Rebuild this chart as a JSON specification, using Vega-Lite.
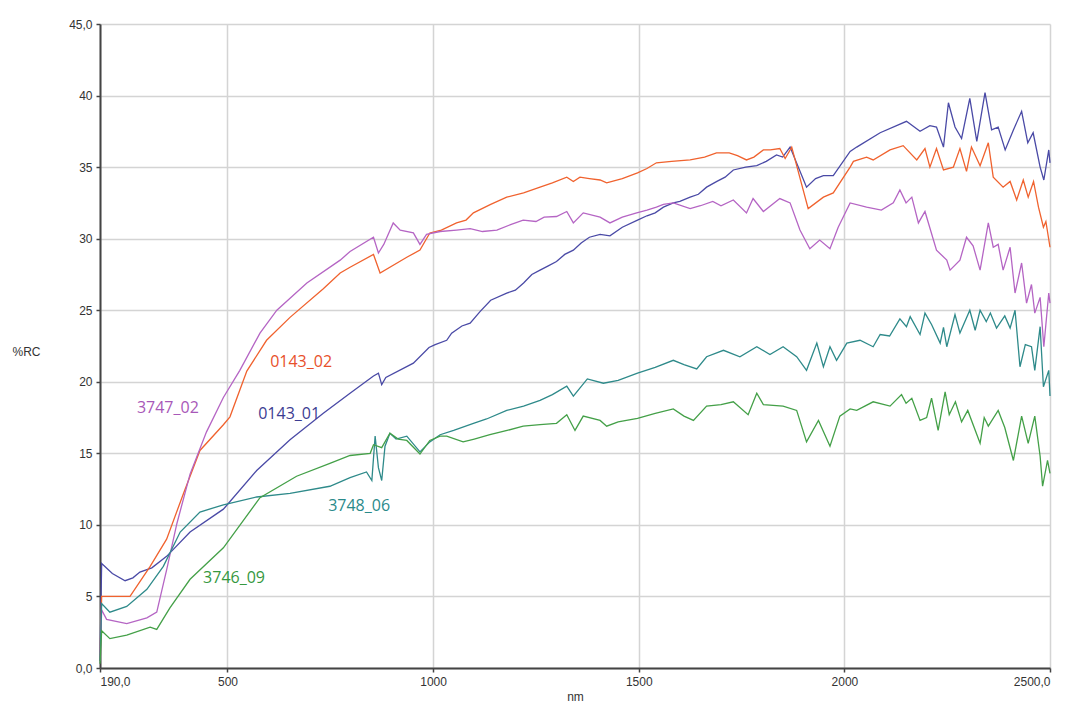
{
  "$schema": "https://vega.github.io/schema/vega-lite/v6.json",
  "width": 950,
  "height": 644,
  "autosize": {"type": "none"},
  "padding": {"left": 100, "top": 24, "right": 31, "bottom": 52},
  "background": "white",
  "config": {
    "view": {"stroke": null},
    "font": "Liberation Sans",
    "axis": {
      "labelFont": "Liberation Sans",
      "labelFontSize": 12,
      "labelColor": "#333333",
      "titleFont": "Liberation Sans",
      "titleFontSize": 12,
      "titleFontWeight": "normal",
      "titleColor": "#333333",
      "gridColor": "#d4d4d4",
      "gridWidth": 1.5,
      "domainColor": "#444444",
      "domainWidth": 2,
      "tickColor": "#444444",
      "tickSize": 4,
      "tickWidth": 1.5
    }
  },
  "datasets": {
    "spectra": [
      {"s":"0143_01","nm":190,"v":0.5},{"s":"0143_01","nm":194,"v":7.3},{"s":"0143_01","nm":198,"v":7.2},{"s":"0143_01","nm":220,"v":6.6},{"s":"0143_01","nm":251,"v":6.1},{"s":"0143_01","nm":270,"v":6.3},{"s":"0143_01","nm":287,"v":6.7},{"s":"0143_01","nm":316,"v":7.0},{"s":"0143_01","nm":352,"v":7.8},{"s":"0143_01","nm":409,"v":9.5},{"s":"0143_01","nm":490,"v":11.1},{"s":"0143_01","nm":571,"v":13.8},{"s":"0143_01","nm":652,"v":15.95},{"s":"0143_01","nm":733,"v":17.8},{"s":"0143_01","nm":798,"v":19.2},{"s":"0143_01","nm":855,"v":20.4},{"s":"0143_01","nm":867,"v":20.6},{"s":"0143_01","nm":875,"v":19.8},{"s":"0143_01","nm":885,"v":20.3},{"s":"0143_01","nm":952,"v":21.3},{"s":"0143_01","nm":990,"v":22.4},{"s":"0143_01","nm":1005,"v":22.6},{"s":"0143_01","nm":1033,"v":22.9},{"s":"0143_01","nm":1045,"v":23.4},{"s":"0143_01","nm":1070,"v":23.9},{"s":"0143_01","nm":1090,"v":24.1},{"s":"0143_01","nm":1114,"v":24.9},{"s":"0143_01","nm":1140,"v":25.7},{"s":"0143_01","nm":1179,"v":26.2},{"s":"0143_01","nm":1200,"v":26.4},{"s":"0143_01","nm":1220,"v":26.9},{"s":"0143_01","nm":1240,"v":27.5},{"s":"0143_01","nm":1260,"v":27.8},{"s":"0143_01","nm":1280,"v":28.1},{"s":"0143_01","nm":1300,"v":28.4},{"s":"0143_01","nm":1320,"v":28.9},{"s":"0143_01","nm":1341,"v":29.2},{"s":"0143_01","nm":1360,"v":29.7},{"s":"0143_01","nm":1380,"v":30.1},{"s":"0143_01","nm":1406,"v":30.3},{"s":"0143_01","nm":1430,"v":30.2},{"s":"0143_01","nm":1460,"v":30.8},{"s":"0143_01","nm":1497,"v":31.3},{"s":"0143_01","nm":1520,"v":31.6},{"s":"0143_01","nm":1540,"v":31.8},{"s":"0143_01","nm":1560,"v":32.2},{"s":"0143_01","nm":1584,"v":32.5},{"s":"0143_01","nm":1600,"v":32.6},{"s":"0143_01","nm":1625,"v":32.9},{"s":"0143_01","nm":1645,"v":33.1},{"s":"0143_01","nm":1665,"v":33.6},{"s":"0143_01","nm":1690,"v":34.0},{"s":"0143_01","nm":1710,"v":34.3},{"s":"0143_01","nm":1730,"v":34.8},{"s":"0143_01","nm":1760,"v":35.0},{"s":"0143_01","nm":1787,"v":35.1},{"s":"0143_01","nm":1810,"v":35.4},{"s":"0143_01","nm":1835,"v":35.85},{"s":"0143_01","nm":1850,"v":35.7},{"s":"0143_01","nm":1868,"v":36.4},{"s":"0143_01","nm":1908,"v":33.6},{"s":"0143_01","nm":1930,"v":34.2},{"s":"0143_01","nm":1949,"v":34.4},{"s":"0143_01","nm":1973,"v":34.4},{"s":"0143_01","nm":2014,"v":36.1},{"s":"0143_01","nm":2030,"v":36.4},{"s":"0143_01","nm":2087,"v":37.4},{"s":"0143_01","nm":2151,"v":38.2},{"s":"0143_01","nm":2184,"v":37.5},{"s":"0143_01","nm":2208,"v":37.9},{"s":"0143_01","nm":2224,"v":37.8},{"s":"0143_01","nm":2241,"v":36.4},{"s":"0143_01","nm":2253,"v":39.5},{"s":"0143_01","nm":2269,"v":37.8},{"s":"0143_01","nm":2285,"v":37.0},{"s":"0143_01","nm":2305,"v":39.8},{"s":"0143_01","nm":2322,"v":36.8},{"s":"0143_01","nm":2342,"v":40.2},{"s":"0143_01","nm":2358,"v":37.6},{"s":"0143_01","nm":2374,"v":37.8},{"s":"0143_01","nm":2391,"v":36.2},{"s":"0143_01","nm":2411,"v":37.6},{"s":"0143_01","nm":2431,"v":38.9},{"s":"0143_01","nm":2446,"v":36.7},{"s":"0143_01","nm":2459,"v":37.4},{"s":"0143_01","nm":2476,"v":35.0},{"s":"0143_01","nm":2485,"v":34.1},{"s":"0143_01","nm":2497,"v":36.2},{"s":"0143_01","nm":2500,"v":35.3},

      {"s":"0143_02","nm":190,"v":0.5},{"s":"0143_02","nm":194,"v":5.0},{"s":"0143_02","nm":263,"v":5.0},{"s":"0143_02","nm":312,"v":7.1},{"s":"0143_02","nm":352,"v":9.0},{"s":"0143_02","nm":393,"v":12.2},{"s":"0143_02","nm":433,"v":15.2},{"s":"0143_02","nm":490,"v":17.0},{"s":"0143_02","nm":506,"v":17.55},{"s":"0143_02","nm":547,"v":20.75},{"s":"0143_02","nm":595,"v":22.9},{"s":"0143_02","nm":652,"v":24.5},{"s":"0143_02","nm":733,"v":26.5},{"s":"0143_02","nm":774,"v":27.6},{"s":"0143_02","nm":798,"v":28.0},{"s":"0143_02","nm":855,"v":28.9},{"s":"0143_02","nm":871,"v":27.6},{"s":"0143_02","nm":936,"v":28.7},{"s":"0143_02","nm":968,"v":29.2},{"s":"0143_02","nm":992,"v":30.4},{"s":"0143_02","nm":1020,"v":30.6},{"s":"0143_02","nm":1057,"v":31.1},{"s":"0143_02","nm":1080,"v":31.3},{"s":"0143_02","nm":1098,"v":31.8},{"s":"0143_02","nm":1140,"v":32.4},{"s":"0143_02","nm":1179,"v":32.9},{"s":"0143_02","nm":1220,"v":33.2},{"s":"0143_02","nm":1260,"v":33.6},{"s":"0143_02","nm":1290,"v":33.9},{"s":"0143_02","nm":1325,"v":34.3},{"s":"0143_02","nm":1341,"v":34.0},{"s":"0143_02","nm":1357,"v":34.3},{"s":"0143_02","nm":1380,"v":34.2},{"s":"0143_02","nm":1406,"v":34.1},{"s":"0143_02","nm":1422,"v":33.9},{"s":"0143_02","nm":1460,"v":34.2},{"s":"0143_02","nm":1497,"v":34.6},{"s":"0143_02","nm":1520,"v":34.9},{"s":"0143_02","nm":1543,"v":35.3},{"s":"0143_02","nm":1580,"v":35.4},{"s":"0143_02","nm":1625,"v":35.5},{"s":"0143_02","nm":1660,"v":35.7},{"s":"0143_02","nm":1689,"v":36.0},{"s":"0143_02","nm":1720,"v":36.0},{"s":"0143_02","nm":1740,"v":35.8},{"s":"0143_02","nm":1762,"v":35.5},{"s":"0143_02","nm":1780,"v":35.7},{"s":"0143_02","nm":1803,"v":36.2},{"s":"0143_02","nm":1820,"v":36.2},{"s":"0143_02","nm":1843,"v":36.3},{"s":"0143_02","nm":1856,"v":35.6},{"s":"0143_02","nm":1872,"v":36.4},{"s":"0143_02","nm":1912,"v":32.1},{"s":"0143_02","nm":1949,"v":32.9},{"s":"0143_02","nm":1973,"v":33.2},{"s":"0143_02","nm":2014,"v":35.0},{"s":"0143_02","nm":2022,"v":35.4},{"s":"0143_02","nm":2054,"v":35.7},{"s":"0143_02","nm":2070,"v":35.5},{"s":"0143_02","nm":2111,"v":36.2},{"s":"0143_02","nm":2143,"v":36.5},{"s":"0143_02","nm":2176,"v":35.5},{"s":"0143_02","nm":2196,"v":36.3},{"s":"0143_02","nm":2208,"v":35.0},{"s":"0143_02","nm":2224,"v":36.3},{"s":"0143_02","nm":2241,"v":34.8},{"s":"0143_02","nm":2265,"v":35.0},{"s":"0143_02","nm":2281,"v":36.3},{"s":"0143_02","nm":2297,"v":34.7},{"s":"0143_02","nm":2309,"v":36.4},{"s":"0143_02","nm":2330,"v":35.1},{"s":"0143_02","nm":2350,"v":36.7},{"s":"0143_02","nm":2362,"v":34.3},{"s":"0143_02","nm":2386,"v":33.6},{"s":"0143_02","nm":2403,"v":34.0},{"s":"0143_02","nm":2419,"v":32.7},{"s":"0143_02","nm":2435,"v":34.1},{"s":"0143_02","nm":2447,"v":32.9},{"s":"0143_02","nm":2460,"v":34.0},{"s":"0143_02","nm":2472,"v":32.2},{"s":"0143_02","nm":2484,"v":30.8},{"s":"0143_02","nm":2490,"v":31.2},{"s":"0143_02","nm":2500,"v":29.4},

      {"s":"3747_02","nm":190,"v":0.5},{"s":"3747_02","nm":194,"v":4.05},{"s":"3747_02","nm":206,"v":3.4},{"s":"3747_02","nm":255,"v":3.1},{"s":"3747_02","nm":304,"v":3.5},{"s":"3747_02","nm":328,"v":3.9},{"s":"3747_02","nm":352,"v":6.85},{"s":"3747_02","nm":377,"v":10.1},{"s":"3747_02","nm":409,"v":13.55},{"s":"3747_02","nm":449,"v":16.5},{"s":"3747_02","nm":490,"v":18.9},{"s":"3747_02","nm":530,"v":20.8},{"s":"3747_02","nm":579,"v":23.4},{"s":"3747_02","nm":620,"v":25.0},{"s":"3747_02","nm":693,"v":26.9},{"s":"3747_02","nm":774,"v":28.5},{"s":"3747_02","nm":798,"v":29.1},{"s":"3747_02","nm":855,"v":30.1},{"s":"3747_02","nm":867,"v":29.0},{"s":"3747_02","nm":880,"v":29.6},{"s":"3747_02","nm":903,"v":31.1},{"s":"3747_02","nm":920,"v":30.6},{"s":"3747_02","nm":952,"v":30.4},{"s":"3747_02","nm":968,"v":29.6},{"s":"3747_02","nm":984,"v":30.3},{"s":"3747_02","nm":1017,"v":30.5},{"s":"3747_02","nm":1057,"v":30.6},{"s":"3747_02","nm":1090,"v":30.7},{"s":"3747_02","nm":1120,"v":30.5},{"s":"3747_02","nm":1155,"v":30.6},{"s":"3747_02","nm":1190,"v":31.0},{"s":"3747_02","nm":1219,"v":31.3},{"s":"3747_02","nm":1250,"v":31.2},{"s":"3747_02","nm":1270,"v":31.5},{"s":"3747_02","nm":1300,"v":31.55},{"s":"3747_02","nm":1325,"v":31.9},{"s":"3747_02","nm":1341,"v":31.1},{"s":"3747_02","nm":1365,"v":31.8},{"s":"3747_02","nm":1406,"v":31.5},{"s":"3747_02","nm":1430,"v":31.1},{"s":"3747_02","nm":1460,"v":31.5},{"s":"3747_02","nm":1495,"v":31.8},{"s":"3747_02","nm":1520,"v":32.0},{"s":"3747_02","nm":1543,"v":32.2},{"s":"3747_02","nm":1560,"v":32.4},{"s":"3747_02","nm":1584,"v":32.5},{"s":"3747_02","nm":1625,"v":32.1},{"s":"3747_02","nm":1650,"v":32.3},{"s":"3747_02","nm":1680,"v":32.6},{"s":"3747_02","nm":1700,"v":32.3},{"s":"3747_02","nm":1730,"v":32.7},{"s":"3747_02","nm":1762,"v":31.8},{"s":"3747_02","nm":1778,"v":32.8},{"s":"3747_02","nm":1803,"v":31.9},{"s":"3747_02","nm":1843,"v":32.8},{"s":"3747_02","nm":1868,"v":32.5},{"s":"3747_02","nm":1892,"v":30.6},{"s":"3747_02","nm":1916,"v":29.3},{"s":"3747_02","nm":1940,"v":29.9},{"s":"3747_02","nm":1965,"v":29.3},{"s":"3747_02","nm":1985,"v":30.8},{"s":"3747_02","nm":2014,"v":32.5},{"s":"3747_02","nm":2054,"v":32.2},{"s":"3747_02","nm":2090,"v":32.0},{"s":"3747_02","nm":2119,"v":32.5},{"s":"3747_02","nm":2135,"v":33.4},{"s":"3747_02","nm":2150,"v":32.5},{"s":"3747_02","nm":2164,"v":32.9},{"s":"3747_02","nm":2180,"v":31.1},{"s":"3747_02","nm":2196,"v":31.9},{"s":"3747_02","nm":2224,"v":29.2},{"s":"3747_02","nm":2249,"v":28.5},{"s":"3747_02","nm":2257,"v":27.8},{"s":"3747_02","nm":2281,"v":28.5},{"s":"3747_02","nm":2297,"v":30.1},{"s":"3747_02","nm":2313,"v":29.5},{"s":"3747_02","nm":2330,"v":27.8},{"s":"3747_02","nm":2350,"v":31.1},{"s":"3747_02","nm":2362,"v":29.4},{"s":"3747_02","nm":2374,"v":29.6},{"s":"3747_02","nm":2386,"v":27.8},{"s":"3747_02","nm":2403,"v":29.4},{"s":"3747_02","nm":2415,"v":26.2},{"s":"3747_02","nm":2431,"v":28.3},{"s":"3747_02","nm":2443,"v":25.5},{"s":"3747_02","nm":2455,"v":26.8},{"s":"3747_02","nm":2463,"v":24.8},{"s":"3747_02","nm":2476,"v":25.9},{"s":"3747_02","nm":2485,"v":22.45},{"s":"3747_02","nm":2497,"v":26.2},{"s":"3747_02","nm":2500,"v":25.5},

      {"s":"3748_06","nm":190,"v":0.5},{"s":"3748_06","nm":194,"v":4.5},{"s":"3748_06","nm":214,"v":3.9},{"s":"3748_06","nm":255,"v":4.3},{"s":"3748_06","nm":304,"v":5.5},{"s":"3748_06","nm":344,"v":7.1},{"s":"3748_06","nm":385,"v":9.5},{"s":"3748_06","nm":433,"v":10.9},{"s":"3748_06","nm":490,"v":11.4},{"s":"3748_06","nm":571,"v":11.95},{"s":"3748_06","nm":652,"v":12.2},{"s":"3748_06","nm":749,"v":12.7},{"s":"3748_06","nm":798,"v":13.3},{"s":"3748_06","nm":838,"v":13.7},{"s":"3748_06","nm":851,"v":13.1},{"s":"3748_06","nm":859,"v":16.2},{"s":"3748_06","nm":867,"v":14.0},{"s":"3748_06","nm":875,"v":13.1},{"s":"3748_06","nm":883,"v":15.5},{"s":"3748_06","nm":895,"v":16.4},{"s":"3748_06","nm":910,"v":16.0},{"s":"3748_06","nm":936,"v":16.2},{"s":"3748_06","nm":968,"v":15.1},{"s":"3748_06","nm":992,"v":15.8},{"s":"3748_06","nm":1017,"v":16.3},{"s":"3748_06","nm":1050,"v":16.6},{"s":"3748_06","nm":1098,"v":17.1},{"s":"3748_06","nm":1130,"v":17.4},{"s":"3748_06","nm":1179,"v":18.0},{"s":"3748_06","nm":1220,"v":18.3},{"s":"3748_06","nm":1260,"v":18.7},{"s":"3748_06","nm":1290,"v":19.1},{"s":"3748_06","nm":1325,"v":19.7},{"s":"3748_06","nm":1341,"v":19.0},{"s":"3748_06","nm":1375,"v":20.2},{"s":"3748_06","nm":1414,"v":19.9},{"s":"3748_06","nm":1450,"v":20.1},{"s":"3748_06","nm":1497,"v":20.6},{"s":"3748_06","nm":1540,"v":21.0},{"s":"3748_06","nm":1584,"v":21.5},{"s":"3748_06","nm":1610,"v":21.2},{"s":"3748_06","nm":1641,"v":20.9},{"s":"3748_06","nm":1665,"v":21.75},{"s":"3748_06","nm":1706,"v":22.2},{"s":"3748_06","nm":1746,"v":21.75},{"s":"3748_06","nm":1787,"v":22.45},{"s":"3748_06","nm":1819,"v":21.9},{"s":"3748_06","nm":1851,"v":22.45},{"s":"3748_06","nm":1884,"v":21.75},{"s":"3748_06","nm":1908,"v":20.8},{"s":"3748_06","nm":1933,"v":22.7},{"s":"3748_06","nm":1949,"v":21.05},{"s":"3748_06","nm":1965,"v":22.45},{"s":"3748_06","nm":1981,"v":21.5},{"s":"3748_06","nm":2006,"v":22.7},{"s":"3748_06","nm":2038,"v":22.9},{"s":"3748_06","nm":2070,"v":22.45},{"s":"3748_06","nm":2087,"v":23.3},{"s":"3748_06","nm":2110,"v":23.2},{"s":"3748_06","nm":2135,"v":24.4},{"s":"3748_06","nm":2151,"v":23.85},{"s":"3748_06","nm":2160,"v":24.55},{"s":"3748_06","nm":2184,"v":23.3},{"s":"3748_06","nm":2196,"v":24.8},{"s":"3748_06","nm":2212,"v":24.0},{"s":"3748_06","nm":2233,"v":22.7},{"s":"3748_06","nm":2241,"v":23.8},{"s":"3748_06","nm":2249,"v":22.45},{"s":"3748_06","nm":2269,"v":24.7},{"s":"3748_06","nm":2281,"v":23.4},{"s":"3748_06","nm":2305,"v":25.0},{"s":"3748_06","nm":2318,"v":23.6},{"s":"3748_06","nm":2330,"v":25.0},{"s":"3748_06","nm":2345,"v":24.2},{"s":"3748_06","nm":2355,"v":24.8},{"s":"3748_06","nm":2370,"v":23.75},{"s":"3748_06","nm":2390,"v":24.6},{"s":"3748_06","nm":2403,"v":23.75},{"s":"3748_06","nm":2415,"v":25.0},{"s":"3748_06","nm":2427,"v":21.05},{"s":"3748_06","nm":2440,"v":22.6},{"s":"3748_06","nm":2455,"v":22.45},{"s":"3748_06","nm":2463,"v":20.8},{"s":"3748_06","nm":2476,"v":23.85},{"s":"3748_06","nm":2484,"v":19.65},{"s":"3748_06","nm":2497,"v":20.8},{"s":"3748_06","nm":2500,"v":19.0},

      {"s":"3746_09","nm":190,"v":0.3},{"s":"3746_09","nm":194,"v":2.6},{"s":"3746_09","nm":214,"v":2.05},{"s":"3746_09","nm":255,"v":2.3},{"s":"3746_09","nm":312,"v":2.85},{"s":"3746_09","nm":328,"v":2.7},{"s":"3746_09","nm":360,"v":4.2},{"s":"3746_09","nm":409,"v":6.2},{"s":"3746_09","nm":490,"v":8.4},{"s":"3746_09","nm":579,"v":11.9},{"s":"3746_09","nm":668,"v":13.4},{"s":"3746_09","nm":749,"v":14.3},{"s":"3746_09","nm":798,"v":14.85},{"s":"3746_09","nm":847,"v":15.0},{"s":"3746_09","nm":855,"v":15.6},{"s":"3746_09","nm":875,"v":15.4},{"s":"3746_09","nm":895,"v":16.4},{"s":"3746_09","nm":915,"v":16.0},{"s":"3746_09","nm":936,"v":15.9},{"s":"3746_09","nm":968,"v":14.95},{"s":"3746_09","nm":992,"v":15.9},{"s":"3746_09","nm":1017,"v":16.2},{"s":"3746_09","nm":1033,"v":16.2},{"s":"3746_09","nm":1073,"v":15.8},{"s":"3746_09","nm":1100,"v":16.0},{"s":"3746_09","nm":1138,"v":16.3},{"s":"3746_09","nm":1180,"v":16.6},{"s":"3746_09","nm":1219,"v":16.9},{"s":"3746_09","nm":1260,"v":17.0},{"s":"3746_09","nm":1300,"v":17.1},{"s":"3746_09","nm":1325,"v":17.7},{"s":"3746_09","nm":1345,"v":16.6},{"s":"3746_09","nm":1365,"v":17.6},{"s":"3746_09","nm":1406,"v":17.3},{"s":"3746_09","nm":1422,"v":16.9},{"s":"3746_09","nm":1450,"v":17.2},{"s":"3746_09","nm":1497,"v":17.45},{"s":"3746_09","nm":1540,"v":17.8},{"s":"3746_09","nm":1584,"v":18.1},{"s":"3746_09","nm":1610,"v":17.6},{"s":"3746_09","nm":1633,"v":17.3},{"s":"3746_09","nm":1665,"v":18.3},{"s":"3746_09","nm":1700,"v":18.4},{"s":"3746_09","nm":1730,"v":18.6},{"s":"3746_09","nm":1766,"v":17.7},{"s":"3746_09","nm":1787,"v":19.2},{"s":"3746_09","nm":1803,"v":18.4},{"s":"3746_09","nm":1851,"v":18.3},{"s":"3746_09","nm":1884,"v":18.0},{"s":"3746_09","nm":1908,"v":15.8},{"s":"3746_09","nm":1937,"v":17.3},{"s":"3746_09","nm":1965,"v":15.5},{"s":"3746_09","nm":1989,"v":17.6},{"s":"3746_09","nm":2014,"v":18.1},{"s":"3746_09","nm":2030,"v":18.0},{"s":"3746_09","nm":2070,"v":18.6},{"s":"3746_09","nm":2111,"v":18.3},{"s":"3746_09","nm":2139,"v":19.1},{"s":"3746_09","nm":2150,"v":18.5},{"s":"3746_09","nm":2164,"v":18.85},{"s":"3746_09","nm":2184,"v":17.3},{"s":"3746_09","nm":2200,"v":17.5},{"s":"3746_09","nm":2212,"v":18.85},{"s":"3746_09","nm":2228,"v":16.6},{"s":"3746_09","nm":2245,"v":19.3},{"s":"3746_09","nm":2255,"v":17.7},{"s":"3746_09","nm":2270,"v":18.6},{"s":"3746_09","nm":2285,"v":17.2},{"s":"3746_09","nm":2300,"v":18.0},{"s":"3746_09","nm":2330,"v":15.7},{"s":"3746_09","nm":2340,"v":17.5},{"s":"3746_09","nm":2350,"v":16.9},{"s":"3746_09","nm":2374,"v":18.0},{"s":"3746_09","nm":2390,"v":16.8},{"s":"3746_09","nm":2411,"v":14.5},{"s":"3746_09","nm":2431,"v":17.6},{"s":"3746_09","nm":2447,"v":15.7},{"s":"3746_09","nm":2463,"v":17.6},{"s":"3746_09","nm":2476,"v":14.8},{"s":"3746_09","nm":2482,"v":12.7},{"s":"3746_09","nm":2494,"v":14.5},{"s":"3746_09","nm":2500,"v":13.6}
    ],
    "labels": [
      {"s":"0143_02","nm":679,"v":21.4},
      {"s":"3747_02","nm":355,"v":18.2},
      {"s":"0143_01","nm":650,"v":17.75},
      {"s":"3748_06","nm":820,"v":11.3},
      {"s":"3746_09","nm":516,"v":6.3}
    ]
  },
  "layer": [
    {
      "data": {"name": "spectra"},
      "mark": {"type": "line", "strokeWidth": 1.3, "interpolate": "linear"},
      "encoding": {
        "x": {
          "field": "nm", "type": "quantitative",
          "scale": {"domain": [190, 2500], "nice": false, "zero": false},
          "axis": {
            "title": "nm",
            "values": [190, 500, 1000, 1500, 2000, 2500],
            "labelExpr": "datum.value == 190 ? '190,0' : datum.value == 2500 ? '2500,0' : format(datum.value, 'd')",
            "labelPadding": 4,
            "titlePadding": 4
          }
        },
        "y": {
          "field": "v", "type": "quantitative",
          "scale": {"domain": [0, 45], "nice": false},
          "axis": {
            "title": "%RC",
            "values": [0, 5, 10, 15, 20, 25, 30, 35, 40, 45],
            "labelExpr": "datum.value == 0 ? '0,0' : datum.value == 45 ? '45,0' : format(datum.value, 'd')",
            "labelPadding": 4,
            "titleAngle": 0,
            "titleAlign": "left",
            "titleBaseline": "middle",
            "titleX": -88,
            "titleY": 327
          }
        },
        "color": {
          "field": "s", "type": "nominal",
          "scale": {
            "domain": ["0143_01", "0143_02", "3747_02", "3748_06", "3746_09"],
            "range": ["#4a4aa6", "#f0622e", "#b565c4", "#2e8a8a", "#44a048"]
          },
          "legend": null
        }
      }
    },
    {
      "data": {"name": "labels"},
      "mark": {"type": "text", "font": "Open Sans", "fontSize": 16, "align": "center", "baseline": "middle"},
      "encoding": {
        "x": {"field": "nm", "type": "quantitative"},
        "y": {"field": "v", "type": "quantitative"},
        "text": {"field": "s"},
        "color": {
          "field": "s", "type": "nominal",
          "scale": {
            "domain": ["0143_01", "0143_02", "3747_02", "3748_06", "3746_09"],
            "range": ["#3c3c92", "#e8502a", "#a858b8", "#2a8a8a", "#36983e"]
          },
          "legend": null
        }
      }
    }
  ],
  "resolve": {"scale": {"color": "independent"}}
}
